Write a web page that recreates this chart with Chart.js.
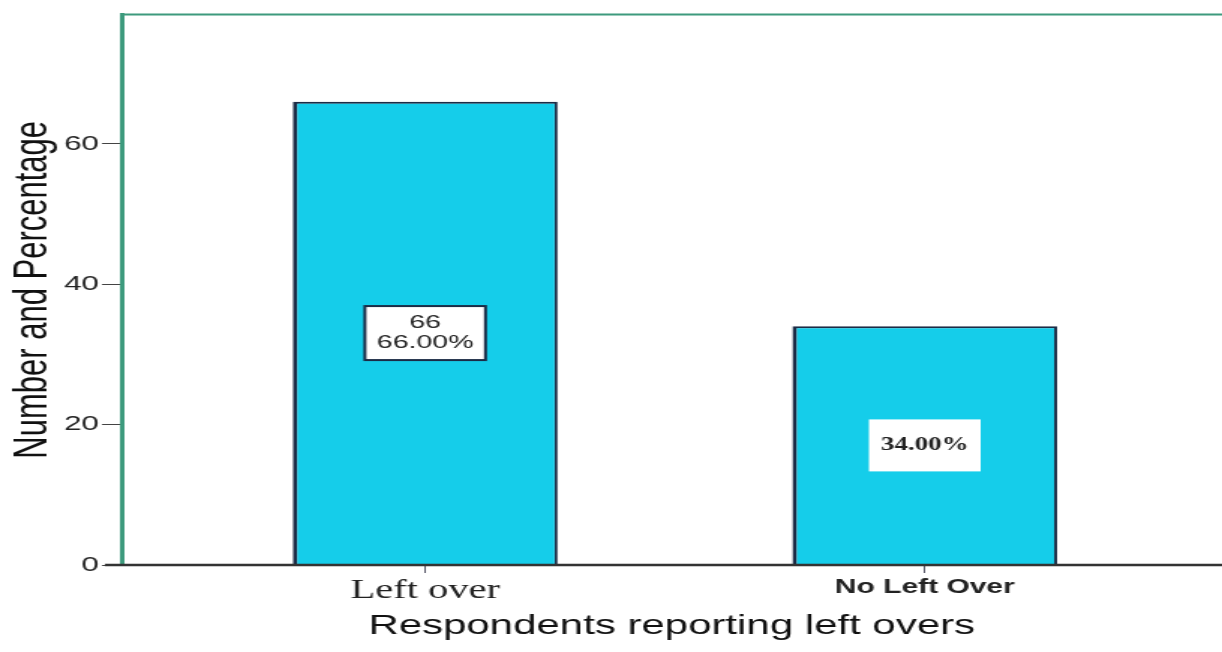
<!DOCTYPE html>
<html>
<head>
<meta charset="utf-8">
<script src="https://cdn.jsdelivr.net/npm/chart.js@4.4.1/dist/chart.umd.min.js"></script>
<style>
  html, body { margin: 0; padding: 0; background: #fff; overflow: hidden; }
  /* l'image d'origine est étirée horizontalement, on fait pareil */
  #wrap { position: absolute; left: 0; top: 0; width: 815px; height: 652px; transform: scaleX(1.4994); transform-origin: 0 0; }
</style>
</head>
<body>
<div id="wrap"><canvas id="chart" width="815" height="652"></canvas></div>
<script>
// Données
const categories = ['Left over', 'No Left Over'];
const counts = [66, 34];
const percentLabels = ['66.00%', '34.00%'];
const showCount = [true, false]; // la 2e étiquette n'affiche que le pourcentage
const yTicks = [0, 20, 40, 60];

const SANS = "'Liberation Sans', Arial, sans-serif";
const SERIF = "'Liberation Serif', 'Times New Roman', serif";

// Lignes du cadre : haut vert + axe du bas prolongé à gauche
const frameLines = {
  id: 'frameLines',
  afterDatasetsDraw(chart) {
    const { ctx, chartArea } = chart;
    ctx.save();
    ctx.strokeStyle = '#3d9a7d';
    ctx.lineWidth = 2;
    ctx.beginPath();
    ctx.moveTo(chartArea.left - 1, chartArea.top);
    ctx.lineTo(chart.width, chartArea.top);
    ctx.stroke();
    ctx.strokeStyle = '#333';
    ctx.lineWidth = 2.5;
    ctx.beginPath();
    ctx.moveTo(chartArea.left - 11, chartArea.bottom);
    ctx.lineTo(chart.width, chartArea.bottom);
    ctx.stroke();
    ctx.restore();
  }
};

// Étiquettes blanches au milieu des barres
const barLabels = {
  id: 'barLabels',
  afterDatasetsDraw(chart) {
    const { ctx } = chart;
    const meta = chart.getDatasetMeta(0);
    meta.data.forEach((bar, i) => {
      const lines = showCount[i] ? [String(counts[i]), percentLabels[i]] : [percentLabels[i]];
      const font = showCount[i] ? '19px ' + SANS : 'bold 18px ' + SERIF;
      const lh = 20;
      ctx.save();
      ctx.font = font;
      const w = Math.max(...lines.map(l => ctx.measureText(l).width)) + 16;
      const h = showCount[i] ? lines.length * lh + 14 : 52;
      const cx = bar.x;
      const cy = (bar.y + bar.base) / 2;
      ctx.fillStyle = '#fff';
      ctx.fillRect(cx - w / 2, cy - h / 2, w, h);
      if (showCount[i]) {
        ctx.strokeStyle = '#1b2b45';
        ctx.lineWidth = 2;
        ctx.strokeRect(cx - w / 2, cy - h / 2, w, h);
      }
      ctx.fillStyle = '#222';
      ctx.textAlign = 'center';
      ctx.textBaseline = 'middle';
      lines.forEach((l, k) => {
        ctx.fillText(l, cx, cy + (k - (lines.length - 1) / 2) * lh);
      });
      ctx.restore();
    });
  }
};

const ctx = document.getElementById('chart').getContext('2d');
const chart = new Chart(ctx, {
  type: 'bar',
  data: {
    datasets: [{
      data: counts.map((v, i) => ({ x: i + 1, y: v })),
      backgroundColor: '#15cdea',
      borderColor: '#1b2b45',
      borderWidth: { top: 2, left: 3, right: 2, bottom: 0 },
      borderSkipped: false,
      categoryPercentage: 1,
      barPercentage: 0.53
    }]
  },
  options: {
    responsive: false,
    animation: false,
    layout: { padding: { top: 12, left: 0, right: 0, bottom: 0 } },
    plugins: {
      legend: { display: false },
      tooltip: { enabled: false }
    },
    scales: {
      x: {
        type: 'linear',
        offset: false,
        min: 0.392,
        max: 2.595,
        afterBuildTicks: axis => { axis.ticks = categories.map((c, i) => ({ value: i + 1 })); },
        afterFit: s => { s.height = 87; },
        border: { display: false },
        grid: { offset: false, drawOnChartArea: false, drawTicks: true, tickLength: 8, color: '#556' },
        ticks: {
          padding: 2,
          color: '#222',
          autoSkip: false,
          maxRotation: 0,
          callback: (v, i) => categories[i],
          font: c => c.index === 0
            ? { family: SERIF, size: 27 }
            : { family: SANS, size: 20, weight: 'bold' }
        },
        title: {
          display: true,
          text: 'Respondents reporting left overs',
          color: '#111',
          font: { family: SANS, size: 28 },
          padding: { top: 0, bottom: 9 }
        }
      },
      y: {
        min: 0,
        max: 78.4,
        afterBuildTicks: axis => { axis.ticks = yTicks.map(v => ({ value: v })); },
        afterFit: s => { s.width = 81; },
        border: { display: true, color: '#3d9a7d', width: 3 },
        grid: { drawOnChartArea: false, drawTicks: true, tickLength: 13, color: '#444' },
        ticks: {
          padding: 2,
          color: '#222',
          font: { family: SANS, size: 21 }
        },
        title: {
          display: true,
          text: 'Number and Percentage',
          color: '#111',
          font: { family: SANS, size: 31 },
          padding: { top: 4, bottom: 0 }
        }
      }
    }
  },
  plugins: [frameLines, barLabels]
});
</script>
</body>
</html>
